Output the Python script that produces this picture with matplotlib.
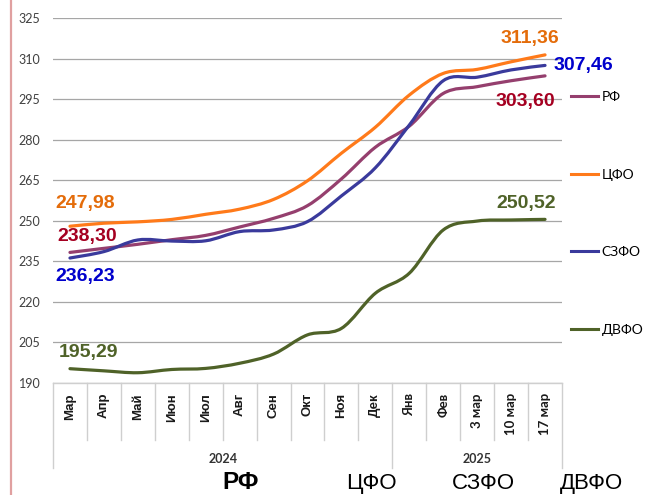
import numpy as np
import matplotlib
matplotlib.use("Agg")
import matplotlib.pyplot as plt
from matplotlib.path import Path
from matplotlib.patches import PathPatch
from matplotlib.lines import Line2D
import matplotlib.transforms as mtransforms

# ---- data ----
categories = ["Мар", "Апр", "Май", "Июн", "Июл", "Авг", "Сен", "Окт", "Ноя", "Дек",
              "Янв", "Фев", "3 мар", "10 мар", "17 мар"]
years = ["2024", "2025"]
year_counts = [10, 5]

rf   = [238.30, 239.8, 241.3, 243.0, 244.6, 247.7, 250.9, 255.6, 265.5, 277.2,
        285.0, 297.1, 299.6, 301.8, 303.60]
cfo  = [247.98, 249.1, 249.6, 250.5, 252.4, 254.3, 257.9, 264.8, 275.0, 284.6,
        296.5, 304.5, 306.0, 308.8, 311.36]
szfo = [236.23, 238.6, 242.9, 242.5, 242.6, 246.0, 246.6, 249.7, 259.2, 269.6,
        285.4, 301.8, 303.1, 305.8, 307.46]
dvfo = [195.29, 194.5, 193.8, 195.0, 195.4, 197.3, 200.7, 207.8, 210.2, 223.2,
        230.6, 246.6, 249.9, 250.3, 250.52]

series_names = ["РФ", "ЦФО", "СЗФО", "ДВФО"]
series_values = [rf, cfo, szfo, dvfo]
line_colors = ["#953F6E", "#FF7A1A", "#3A3A9C", "#4F6228"]
label_colors = ["#A50021", "#E46C0A", "#0000CC", "#4F6228"]
start_labels = ["238,30", "247,98", "236,23", "195,29"]
end_labels = ["303,60", "311,36", "307,46", "250,52"]
bottom_titles = ["РФ", "ЦФО", "СЗФО", "ДВФО"]

yticks = list(range(190, 326, 15))

# ---- figure ----
W, H = 649, 495
fig = plt.figure(figsize=(W / 100, H / 100), dpi=100)
ax = fig.add_axes([53 / W, 1 - 383 / H, (562 - 53) / W, (383 - 18) / H])

n = len(categories)
xs = np.arange(n)


def smooth_path(x, y):
    pts = np.column_stack([x, y]).astype(float)
    verts = [pts[0]]
    codes = [Path.MOVETO]
    m = len(pts)
    for i in range(m - 1):
        p0 = pts[i - 1] if i > 0 else pts[i]
        p1 = pts[i]
        p2 = pts[i + 1]
        p3 = pts[i + 2] if i + 2 < m else pts[i + 1]
        c1 = p1 + (p2 - p0) / 6.0
        c2 = p2 - (p3 - p1) / 6.0
        verts += [c1, c2, p2]
        codes += [Path.CURVE4] * 3
    return Path(verts, codes)


for vals, col in zip(series_values, line_colors):
    ax.add_patch(PathPatch(smooth_path(xs, vals), fill=False, edgecolor=col,
                           lw=2.3, capstyle="round", joinstyle="round", zorder=3))

ax.set_xlim(-0.5, n - 0.5)
ax.set_ylim(190, 325)
ax.set_yticks(yticks)
ax.set_yticklabels([str(t) for t in yticks], fontfamily="Lato", fontsize=9, color="#404040")
ax.tick_params(axis="y", length=0, pad=9)
ax.set_xticks([])
ax.grid(axis="y", color="#A6A6A6", lw=0.9)
ax.set_axisbelow(True)
for s in ["left", "right", "top"]:
    ax.spines[s].set_visible(False)
ax.spines["bottom"].set_color("#CFCFCF")
ax.spines["bottom"].set_linewidth(1.0)

# data labels
start_off = [(12.2, 11.1), (10.8, 16.6), (10.8, -13.0), (13.0, 12.0)]
end_off = [(-14.4, -18.8), (-10.8, 11.5), (27.4, -0.4), (-13.7, 11.1)]
for vals, col, sl, el, so, eo in zip(series_values, label_colors, start_labels,
                                     end_labels, start_off, end_off):
    ax.annotate(sl, xy=(xs[0], vals[0]), xytext=so, textcoords="offset points",
                ha="center", va="center", fontsize=14, fontweight="bold",
                fontfamily="Liberation Sans", color=col, zorder=5)
    ax.annotate(el, xy=(xs[-1], vals[-1]), xytext=eo, textcoords="offset points",
                ha="center", va="center", fontsize=14, fontweight="bold",
                fontfamily="Liberation Sans", color=col, zorder=5,
                annotation_clip=False)

# multi-level category axis
trans = mtransforms.blended_transform_factory(ax.transData, ax.transAxes)
sep_short = -57 / 365
sep_long = -85 / 365
bounds = np.cumsum([0] + year_counts) - 0.5
for i in range(n + 1):
    xb = i - 0.5
    ylow = sep_long if xb in bounds else sep_short
    ax.plot([xb, xb], [0, ylow], transform=trans, color="#CFCFCF", lw=1.0,
            clip_on=False)
for i, c in enumerate(categories):
    fam = "Liberation Sans" if i < year_counts[0] else "Lato"
    ax.text(i, -10 / 365, c, transform=trans, rotation=90, ha="center", va="top",
            fontsize=9.5, fontweight="bold", fontfamily=fam, color="#1a1a1a")
for j, yr in enumerate(years):
    cx = (bounds[j] + bounds[j + 1]) / 2
    ax.text(cx, -76 / 365, yr, transform=trans, ha="center", va="center",
            fontsize=9, fontweight="bold", fontfamily="Lato", color="#333333")

# legend
handles = [Line2D([], [], color=c, lw=2.2) for c in line_colors]
fig.legend(handles, series_names, loc="upper left",
           bbox_to_anchor=(571 / W, 1 - 91 / H), frameon=False,
           prop={"family": "Lato", "size": 10}, labelspacing=4.72,
           handlelength=1.95, handletextpad=0.25, borderpad=0, borderaxespad=0)

# left decorative line
fig.add_artist(Line2D([11 / W, 11 / W], [0, 1], color="#E0A0A0", lw=1.6))

# bottom titles
title_x = [241, 371, 483, 591]
for t, xpx in zip(bottom_titles, title_x):
    bold = t == "РФ"
    fig.text(xpx / W, 1 - 489 / H, t, ha="center", va="baseline",
             fontsize=17.5 if bold else 16,
             fontfamily="Liberation Sans",
             fontweight="bold" if bold else "normal", color="black")

fig.savefig("out.png", dpi=100)
